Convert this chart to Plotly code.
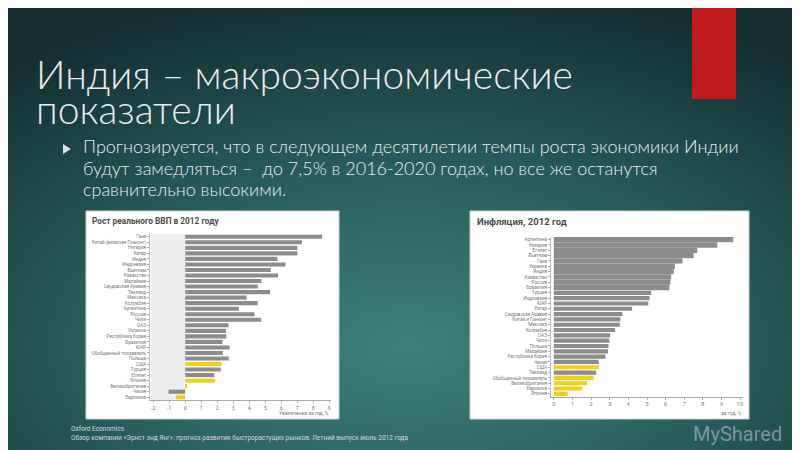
import base64
import plotly.graph_objects as go

# ---------------- data ----------------
gdp_countries = ["Гана", "Китай (включая Гонконг)", "Нигерия", "Катар", "Индия", "Индонезия",
                 "Вьетнам", "Казахстан", "Малайзия", "Саудовская Аравия", "Таиланд", "Мексика",
                 "Колумбия", "Аргентина", "Россия", "Чили", "ОАЭ", "Украина", "Республика Корея",
                 "Бразилия", "ЮАР", "Обобщенный показатель", "Польша", "США", "Турция", "Египет",
                 "Япония", "Великобритания", "Чехия", "Еврозона"]
gdp_growth = [8.55, 7.28, 7.0, 7.0, 5.76, 6.26, 5.34, 5.8, 4.76, 4.53, 5.3, 3.83, 4.53, 3.35,
              4.32, 4.74, 2.7, 2.54, 2.56, 2.33, 2.77, 2.35, 2.72, 2.27, 2.22, 1.81, 1.87, 0.06,
              -1.04, -0.58]
gdp_highlight = ["США", "Япония", "Великобритания", "Еврозона"]
gdp_ticks = [-2, -1, 0, 1, 2, 3, 4, 5, 6, 7, 8, 9]

infl_countries = ["Аргентина", "Нигерия", "Египет", "Вьетнам", "Гана", "Украина", "Индия",
                  "Казахстан", "Россия", "Бразилия", "Турция", "Индонезия", "ЮАР", "Катар",
                  "Саудовская Аравия", "Китай и Гонконг", "Мексика", "Колумбия", "ОАЭ", "Чили",
                  "Польша", "Малайзия", "Республика Корея", "Чехия", "США", "Таиланд",
                  "Обобщенный показатель", "Великобритания", "Еврозона", "Япония"]
infl_values = [9.63, 8.77, 7.7, 7.5, 6.9, 6.5, 6.43, 6.3, 6.25, 6.2, 5.23, 5.14, 5.07, 4.2,
               3.68, 3.57, 3.54, 3.29, 3.02, 2.98, 2.93, 2.91, 2.77, 2.41, 2.41, 2.27, 2.14,
               1.79, 1.52, 0.75]
infl_highlight = ["США", "Обобщенный показатель", "Великобритания", "Еврозона", "Япония"]
infl_ticks = [0, 1, 2, 3, 4, 5, 6, 7, 8, 9, 10]

title_lines = ["Индия – макроэкономические", "показатели"]
bullet_lines = ["Прогнозируется, что в следующем десятилетии темпы роста экономики Индии",
                "будут замедляться –  до 7,5% в 2016-2020 годах, но все же останутся",
                "сравнительно высокими."]
source_lines = ["Oxford Economics",
                "Обзор компании «Эрнст энд Янг»: прогноз развития быстрорастущих рынков. Летний выпуск июль 2012 года"]

# ---------------- helpers ----------------
W, H = 800, 450
def px(x):
    return x / W
def py(y):
    return 1 - y / H

GRAY = "#8c8c8c"
GOLD = "#f3cd1c"

gdp_colors = [GOLD if c in gdp_highlight else GRAY for c in gdp_countries]
infl_colors = [GOLD if c in infl_highlight else GRAY for c in infl_countries]
infl_widths = [1.0 if i < 10 else 0.78 for i in range(len(infl_countries))]

svg = ('<svg xmlns="http://www.w3.org/2000/svg" width="800" height="450" preserveAspectRatio="none">'
       '<defs><radialGradient id="g" cx="0.5" cy="0.75" r="0.8">'
       '<stop offset="0" stop-color="#3c8079"/>'
       '<stop offset="0.45" stop-color="#2a625f"/>'
       '<stop offset="1" stop-color="#142d31"/>'
       '</radialGradient></defs>'
       '<rect width="800" height="450" fill="url(#g)"/></svg>')
bg_src = "data:image/svg+xml;base64," + base64.b64encode(svg.encode()).decode()

fig = go.Figure()
fig.add_trace(go.Bar(x=gdp_growth, y=gdp_countries, orientation="h",
                     marker=dict(color=gdp_colors, line=dict(width=0)), width=0.74,
                     xaxis="x", yaxis="y", hoverinfo="x+y"))
fig.add_trace(go.Bar(x=infl_values, y=infl_countries, orientation="h",
                     marker=dict(color=infl_colors, line=dict(width=0)), width=infl_widths,
                     xaxis="x2", yaxis="y2", hoverinfo="x+y"))

axis_common = dict(showgrid=False, zeroline=False, fixedrange=True)
n1 = len(gdp_countries)
n2 = len(infl_countries)

fig.update_layout(
    width=W, height=H, margin=dict(l=0, r=0, t=0, b=0),
    paper_bgcolor="#1f4646", plot_bgcolor="rgba(0,0,0,0)",
    showlegend=False, barmode="overlay",
    font=dict(family="Roboto, Noto Sans, sans-serif"),
    xaxis=dict(domain=[px(142), px(323)], range=[-2.2, 9.1], anchor="y",
               tickmode="array", tickvals=gdp_ticks, ticktext=[str(t) for t in gdp_ticks],
               tickfont=dict(size=5.5, color="#777777"), ticks="outside", ticklen=2,
               tickcolor="#aaaaaa", showline=True, linecolor="#aaaaaa", linewidth=1,
               **axis_common),
    yaxis=dict(domain=[py(392), py(226)], type="category", range=[n1 - 0.5, -0.5],
               anchor="x", tickmode="array", tickvals=gdp_countries, ticktext=gdp_countries,
               tickfont=dict(size=4.6, color="#777777"), ticks="outside",
               ticklen=2, tickcolor="#aaaaaa", showline=True, linecolor="#bbbbbb",
               linewidth=1, **axis_common),
    xaxis2=dict(domain=[px(543), px(735)], range=[-0.15, 10.15], anchor="y2",
                tickmode="array", tickvals=infl_ticks, ticktext=[str(t) for t in infl_ticks],
                tickfont=dict(size=5.5, color="#777777"), ticks="outside", ticklen=2,
                tickcolor="#aaaaaa", showline=True, linecolor="#aaaaaa", linewidth=1,
                **axis_common),
    yaxis2=dict(domain=[py(388.5), py(229)], type="category", range=[n2 - 0.5, -0.5],
                anchor="x2", tickmode="array", tickvals=infl_countries, ticktext=infl_countries,
                tickfont=dict(size=4.6, color="#777777"), ticks="outside",
                ticklen=2, tickcolor="#aaaaaa", showline=True, linecolor="#bbbbbb",
                linewidth=1, **axis_common),
)

fig.add_layout_image(dict(source=bg_src, xref="paper", yref="paper", x=0, y=1,
                          sizex=1, sizey=1, sizing="stretch", layer="below"))

shapes = []
shapes.append(dict(type="rect", xref="paper", yref="paper", x0=px(78), x1=px(331),
                   y0=py(411), y1=py(203), fillcolor="#ffffff",
                   line=dict(color="#d0d0d0", width=1), layer="below"))
shapes.append(dict(type="rect", xref="paper", yref="paper", x0=px(462), x1=px(741),
                   y0=py(411), y1=py(203), fillcolor="#ffffff",
                   line=dict(color="#d0d0d0", width=1), layer="below"))
shapes.append(dict(type="rect", xref="x", yref="y domain", x0=-2.15, x1=0, y0=0, y1=1,
                   fillcolor="#eeeeee", line=dict(width=0), layer="below"))
shapes.append(dict(type="rect", xref="paper", yref="paper", x0=px(684), x1=px(728),
                   y0=py(91), y1=py(0), fillcolor="#c01a1c", line=dict(width=0)))
shapes.append(dict(type="path", xref="paper", yref="paper",
                   path=f"M {px(55)} {py(136)} L {px(63)} {py(141)} L {px(55)} {py(146)} Z",
                   fillcolor="#e0e0e0", line=dict(width=0)))
fig.update_layout(shapes=shapes)

ann = []
TITLE_FONT = dict(family="Lato, Noto Sans, sans-serif", size=39, color="#ececec", weight=300)
ann.append(dict(text=title_lines[0], x=px(26), y=py(66), xref="paper", yref="paper",
                xanchor="left", yanchor="middle", showarrow=False, font=TITLE_FONT))
ann.append(dict(text=title_lines[1], x=px(26), y=py(101), xref="paper", yref="paper",
                xanchor="left", yanchor="middle", showarrow=False, font=TITLE_FONT))
for i, line in enumerate(bullet_lines):
    ann.append(dict(text=line, x=px(73), y=py(138 + 21.5 * i), xref="paper", yref="paper",
                    xanchor="left", yanchor="middle", showarrow=False,
                    font=dict(family="Lato, Noto Sans, sans-serif", size=18, color="#ececec",
                              weight=300)))
ann.append(dict(text=source_lines[0], x=px(61), y=py(421), xref="paper", yref="paper",
                xanchor="left", yanchor="middle", showarrow=False,
                font=dict(family="Roboto, sans-serif", size=6.5, color="#d8d8d8")))
ann.append(dict(text=source_lines[1], x=px(61), y=py(430), xref="paper", yref="paper",
                xanchor="left", yanchor="middle", showarrow=False,
                font=dict(family="Roboto, sans-serif", size=6.5, color="#d8d8d8")))
ann.append(dict(text="<b>Рост реального ВВП в 2012 году</b>", x=px(82), y=py(213),
                xref="paper", yref="paper", xanchor="left", yanchor="middle",
                showarrow=False, font=dict(family="Roboto, sans-serif", size=8.3, color="#4a4a4a")))
ann.append(dict(text="<b>Инфляция, 2012 год</b>", x=px(467), y=py(214),
                xref="paper", yref="paper", xanchor="left", yanchor="middle",
                showarrow=False, font=dict(family="Roboto, sans-serif", size=9.5, color="#4a4a4a")))
ann.append(dict(text="Увеличение за год, %", x=px(323), y=py(405), xref="paper", yref="paper",
                xanchor="right", yanchor="middle", showarrow=False,
                font=dict(family="Roboto, sans-serif", size=5, color="#777777")))
ann.append(dict(text="за год, %", x=px(735), y=py(405), xref="paper", yref="paper",
                xanchor="right", yanchor="middle", showarrow=False,
                font=dict(family="Roboto, sans-serif", size=5, color="#777777")))
ann.append(dict(text="MyShared", x=px(776), y=py(426), xref="paper", yref="paper",
                xanchor="right", yanchor="middle", showarrow=False,
                font=dict(family="Roboto, sans-serif", size=20, color="rgba(215,215,215,0.5)")))
fig.update_layout(annotations=ann)

fig.write_html("out.html")
